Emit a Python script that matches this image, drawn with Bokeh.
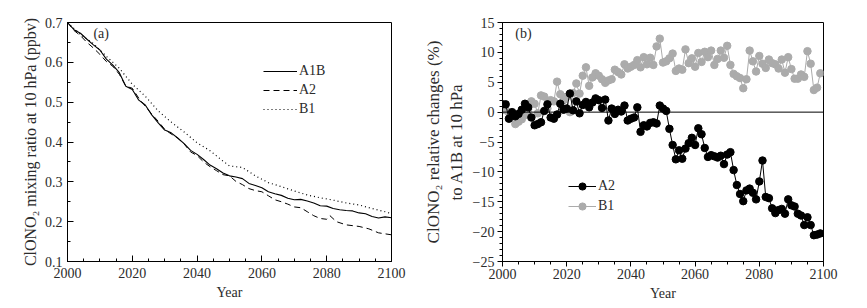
from bokeh.plotting import figure
from bokeh.layouts import row
from bokeh.models import (FixedTicker, Legend, LegendItem, Label, Span)
from bokeh.embed import file_html
from bokeh.resources import INLINE

# ---------------- data: panel (a) ----------------
years_a1b = [2000, 2002, 2004, 2006, 2008, 2010, 2012, 2014, 2016, 2018, 2020, 2022, 2024,
             2026, 2028, 2030, 2032, 2034, 2036, 2038, 2040, 2042, 2044, 2046, 2048, 2050,
             2052, 2054, 2056, 2058, 2060, 2062, 2064, 2066, 2068, 2070, 2072, 2074, 2076,
             2078, 2080, 2082, 2084, 2086, 2088, 2090, 2092, 2094, 2096, 2098, 2100]
a1b = [0.700, 0.682, 0.673, 0.658, 0.644, 0.631, 0.608, 0.593, 0.574, 0.540, 0.532, 0.505, 0.493,
       0.468, 0.448, 0.430, 0.423, 0.410, 0.396, 0.379, 0.369, 0.356, 0.342, 0.333, 0.322, 0.315,
       0.312, 0.308, 0.296, 0.291, 0.285, 0.275, 0.270, 0.266, 0.259, 0.255, 0.256, 0.252, 0.247,
       0.240, 0.239, 0.233, 0.230, 0.228, 0.227, 0.222, 0.220, 0.213, 0.209, 0.212, 0.210]

years_a2_line = [2000, 2002, 2004, 2006, 2008, 2010, 2012, 2014, 2016, 2018, 2020, 2022, 2024,
                 2026, 2028, 2030, 2032, 2034, 2036, 2038, 2040, 2042, 2044, 2046, 2048, 2050,
                 2052, 2054, 2056, 2058, 2060, 2062, 2064, 2066, 2068, 2070, 2072, 2074, 2076,
                 2078, 2080, 2081, 2083, 2086, 2090, 2093, 2096, 2100]
a2_line = [0.700, 0.680, 0.667, 0.650, 0.636, 0.620, 0.602, 0.590, 0.570, 0.540, 0.535, 0.510, 0.490,
           0.470, 0.452, 0.432, 0.420, 0.410, 0.395, 0.375, 0.366, 0.350, 0.338, 0.328, 0.318, 0.315,
           0.301, 0.293, 0.283, 0.278, 0.275, 0.265, 0.255, 0.250, 0.244, 0.237, 0.235, 0.225, 0.215,
           0.208, 0.206, 0.215, 0.200, 0.192, 0.188, 0.182, 0.172, 0.167]

years_b1_line = [2000, 2004, 2008, 2012, 2016, 2020, 2024, 2028, 2032, 2036, 2040, 2044, 2048,
                 2050, 2054, 2058, 2062, 2066, 2070, 2074, 2078, 2082, 2086, 2090, 2094, 2098, 2100]
b1_line = [0.700, 0.670, 0.647, 0.615, 0.585, 0.545, 0.515, 0.478, 0.450, 0.425, 0.398, 0.378, 0.352,
           0.340, 0.336, 0.315, 0.298, 0.288, 0.277, 0.267, 0.260, 0.254, 0.247, 0.242, 0.233, 0.225, 0.220]

# ---------------- data: panel (b) ----------------
years_b = list(range(2000, 2100))
a2_rel = [1.3, 1.3, -1.1, 0.0, -0.7, -0.3, 0.4, 1.4, 0.8, -0.9,
          -2.2, -2.0, -1.7, 0.2, 1.3, -0.9, -1.1, -0.4, 1.4, 0.4,
          0.6, 3.1, 0.3, 1.8, -0.2, 1.2, 1.7, 0.8, 1.6, 2.3,
          2.0, 0.7, 2.1, -1.4, 0.6, -0.3, 0.4, 0.1, 1.1, -1.4,
          -1.1, -0.9, 0.8, -3.3, -2.2, -2.4, -1.8, -1.7, -1.9, 1.1,
          0.6, 0.2, -2.8, -5.5, -7.9, -6.4, -7.8, -6.1, -5.2, -4.3,
          -5.5, -2.7, -3.7, -6.0, -7.5, -7.2, -7.4, -7.6, -7.3, -8.7,
          -7.1, -6.7, -9.7, -12.2, -13.7, -14.9, -13.1, -12.8, -13.5, -14.6,
          -11.6, -8.1, -14.2, -14.4, -16.1, -16.9, -16.4, -16.2, -17.0, -14.6,
          -15.6, -15.8, -17.0, -17.3, -18.9, -17.6, -18.9, -20.6, -20.5, -20.3]
b1_rel = [0.5, 0.3, 0.0, -0.3, -2.0, -1.6, -1.2, -0.5, 0.5, 1.8,
          1.4, -0.2, 2.8, 2.6, 0.6, 2.0, 1.8, 5.1, 3.0, 2.0,
          2.6, 0.0, 3.2, 4.8, 3.1, 6.1, 7.5, 4.4, 5.8, 6.5,
          6.1, 5.5, 4.9, 5.3, 5.5, 7.1, 6.7, 6.3, 8.0, 7.3,
          7.6, 7.9, 8.7, 7.5, 9.2, 8.0, 9.1, 7.9, 11.0, 12.3,
          8.3, 8.5, 9.0, 9.8, 6.9, 7.3, 7.1, 10.5, 8.2, 9.0,
          7.6, 9.9, 8.4, 10.1, 9.2, 10.3, 7.9, 8.9, 10.3, 9.1,
          11.1, 7.9, 6.4, 6.0, 5.7, 4.0, 5.5, 10.3, 8.5, 6.8,
          9.4, 8.1, 7.4, 8.8, 8.2, 8.0, 7.3, 8.8, 6.6, 9.2,
          7.2, 5.6, 5.6, 6.3, 5.9, 10.2, 8.1, 3.7, 4.1, 6.5]

x_ticks = [2000, 2020, 2040, 2060, 2080, 2100]
x_minor = list(range(2000, 2101, 5))
ya_ticks = [0.1, 0.2, 0.3, 0.4, 0.5, 0.6, 0.7]
ya_minor = [0.1, 0.15, 0.2, 0.25, 0.3, 0.35, 0.4, 0.45, 0.5, 0.55, 0.6, 0.65, 0.7]
yb_ticks = [-25, -20, -15, -10, -5, 0, 5, 10, 15]
yb_minor = list(range(-25, 16))
yb_labels = {-25: "−25", -20: "−20", -15: "−15", -10: "−10", -5: "−5",
             0: "0", 5: "5", 10: "10", 15: "15"}

FONT = "Liberation Serif"
TXT = "#2b2b2b"


def style(p, inside, ylabel_size):
    p.xgrid.visible = False
    p.ygrid.visible = False
    p.outline_line_color = "black"
    p.outline_line_width = 1
    p.background_fill_color = "white"
    p.border_fill_color = "white"
    for ax in (p.xaxis[0], p.yaxis[0]):
        ax.axis_line_color = "black"
        ax.major_tick_line_color = "black"
        ax.minor_tick_line_color = "black"
        ax.major_label_text_font = FONT
        ax.major_label_text_font_size = "14px"
        ax.major_label_text_color = TXT
        ax.axis_label_text_font = FONT
        ax.axis_label_text_font_size = "14px"
        ax.axis_label_text_font_style = "normal"
        ax.axis_label_text_color = TXT
        if inside:
            ax.major_tick_in = 6
            ax.major_tick_out = 0
            ax.minor_tick_in = 3
            ax.minor_tick_out = 0
        else:
            ax.major_tick_in = 0
            ax.major_tick_out = 5
            ax.minor_tick_in = 0
            ax.minor_tick_out = 3
    p.yaxis[0].axis_label_text_font_size = ylabel_size


# ---------------- panel (a) ----------------
pa = figure(width=420, height=308, x_range=(2000, 2100), y_range=(0.1, 0.7),
            output_backend="svg", toolbar_location=None,
            min_border_left=67, min_border_right=29, min_border_top=22, min_border_bottom=47)
style(pa, inside=True, ylabel_size="16px")
pa.xaxis.ticker = FixedTicker(ticks=x_ticks, minor_ticks=x_minor)
pa.yaxis.ticker = FixedTicker(ticks=ya_ticks, minor_ticks=ya_minor)
pa.xaxis.axis_label = "Year"
pa.yaxis.axis_label = "ClONO₂ mixing ratio at 10 hPa (ppbv)"
pa.xaxis.major_label_standoff = 6
pa.xaxis.axis_label_standoff = 4
pa.yaxis.major_label_standoff = 5
pa.yaxis.axis_label_standoff = 3

r1 = pa.line(years_a1b, a1b, line_color="black", line_width=1.1)
r2 = pa.line(years_a2_line, a2_line, line_color="black", line_width=1.0, line_dash="6 4")
r3 = pa.line(years_b1_line, b1_line, line_color="black", line_width=1.2, line_dash="1 3")

leg_a = Legend(items=[LegendItem(label="A1B", renderers=[r1]),
                      LegendItem(label="A2", renderers=[r2]),
                      LegendItem(label="B1", renderers=[r3])],
               location=(196, 143), border_line_color=None, background_fill_alpha=0,
               label_text_font=FONT, label_text_font_size="14px", label_text_color=TXT,
               glyph_width=34, glyph_height=18, label_height=18, label_standoff=2,
               padding=0, spacing=1, margin=0)
pa.add_layout(leg_a)
pa.add_layout(Label(x=2008, y=0.672, text="(a)", text_font=FONT, text_font_size="14px",
                    text_color=TXT, text_baseline="middle"))

# ---------------- panel (b) ----------------
pb = figure(width=447, height=308, x_range=(2000, 2100), y_range=(-25, 15),
            output_backend="svg", toolbar_location=None,
            min_border_left=79, min_border_right=44, min_border_top=22, min_border_bottom=47)
style(pb, inside=False, ylabel_size="17px")
pb.xaxis.ticker = FixedTicker(ticks=x_ticks, minor_ticks=x_minor)
pb.yaxis.ticker = FixedTicker(ticks=yb_ticks, minor_ticks=yb_minor)
pb.yaxis.major_label_overrides = yb_labels
pb.xaxis.axis_label = "Year"
pb.yaxis.axis_label = "ClONO₂ relative changes (%)\nto A1B at 10 hPa"
pb.xaxis.major_label_standoff = 2
pb.xaxis.axis_label_standoff = 4
pb.yaxis.major_label_standoff = 3
pb.yaxis.axis_label_standoff = 4

pb.add_layout(Span(location=0, dimension="width", line_color="black", line_width=1))

GRAY = "#ababab"
lb1 = pb.line(years_b, b1_rel, line_color=GRAY, line_width=1)
sb1 = pb.scatter(years_b, b1_rel, size=7.5, fill_color=GRAY, line_color=GRAY)
la2 = pb.line(years_b, a2_rel, line_color="black", line_width=1)
sa2 = pb.scatter(years_b, a2_rel, size=7.5, fill_color="black", line_color="black")

leg_b = Legend(items=[LegendItem(label="A2", renderers=[la2, sa2]),
                      LegendItem(label="B1", renderers=[lb1, sb1])],
               location=(66, 46), border_line_color=None, background_fill_alpha=0,
               label_text_font=FONT, label_text_font_size="14px", label_text_color=TXT,
               glyph_width=28, glyph_height=18, label_height=18, label_standoff=2,
               padding=0, spacing=2, margin=0)
pb.add_layout(leg_b)
pb.add_layout(Label(x=2004, y=13.2, text="(b)", text_font=FONT, text_font_size="14px",
                    text_color=TXT, text_baseline="middle"))

layout = row(pa, pb)
open("out.html", "w").write(file_html(layout, INLINE))
